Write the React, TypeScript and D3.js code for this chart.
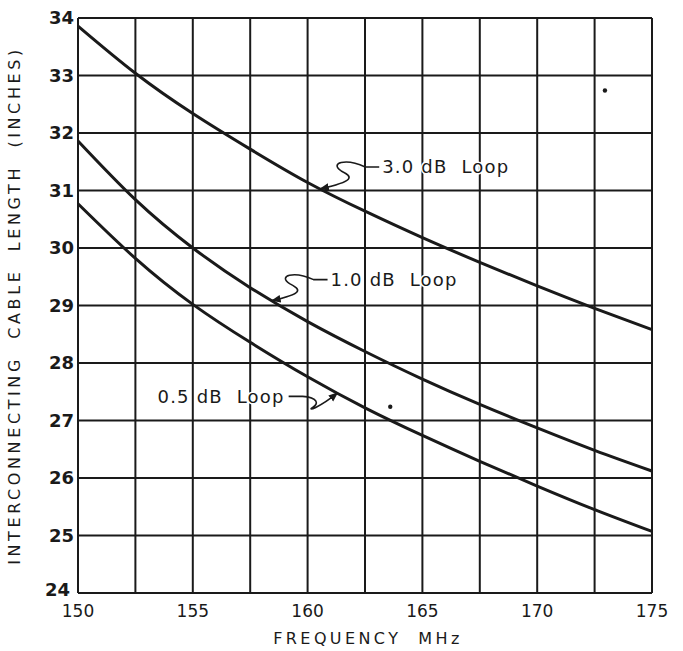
import * as d3 from "d3";

const WIDTH = 683;
const HEIGHT = 651;
const MARGIN = { top: 18, right: 31, bottom: 58, left: 78 };

// frequency samples (MHz), one per vertical grid line
const FREQS = [150, 152.5, 155, 157.5, 160, 162.5, 165, 167.5, 170, 172.5, 175];
// cable length (inches) read for each loop
const LOOP_30 = [33.86, 33.04, 32.34, 31.72, 31.14, 30.64, 30.18, 29.75, 29.34, 28.95, 28.58];
const LOOP_10 = [31.86, 30.84, 30.0, 29.31, 28.72, 28.2, 27.72, 27.28, 26.87, 26.48, 26.12];
const LOOP_05 = [30.77, 29.82, 29.02, 28.36, 27.76, 27.22, 26.74, 26.29, 25.86, 25.45, 25.07];

const X_TICKS = [150, 155, 160, 165, 170, 175];
const X_GRID = [150, 152.5, 155, 157.5, 160, 162.5, 165, 167.5, 170, 172.5, 175];
const Y_TICKS = [24, 25, 26, 27, 28, 29, 30, 31, 32, 33, 34];

// label text, where the text sits (data coords) and the frequency its arrow lands on
const LABELS = [
  { text: "3.0 dB  Loop", series: 0, tx: 163.25, ty: 31.41, ax: 160.55, side: "left" },
  { text: "1.0 dB  Loop", series: 1, tx: 161.0, ty: 29.45, ax: 158.45, side: "left" },
  { text: "0.5 dB  Loop", series: 2, tx: 159.0, ty: 27.42, ax: 161.3, side: "right" },
];

// two stray ink specks on the original sheet
const SPECKS = [
  { f: 172.95, v: 32.74 },
  { f: 163.6, v: 27.24 },
];

const FONT = "'DejaVu Sans', sans-serif";
const INK = "#1a1a1a";

export default function App() {
  const bw = WIDTH - MARGIN.left - MARGIN.right;
  const bh = HEIGHT - MARGIN.top - MARGIN.bottom;

  const x = d3.scaleLinear().domain([150, 175]).range([0, bw]);
  const y = d3.scaleLinear().domain([24, 34]).range([bh, 0]);

  const series = [LOOP_30, LOOP_10, LOOP_05];

  const line = d3
    .line<number>()
    .x((_, i) => x(FREQS[i]))
    .y((d) => y(d))
    .curve(d3.curveNatural);

  // value of a series at a given frequency (linear between readings)
  const valueAt = (s: number[], f: number) => {
    const i = Math.min(d3.bisectRight(FREQS, f), FREQS.length - 1);
    const t = (f - FREQS[i - 1]) / (FREQS[i] - FREQS[i - 1]);
    return s[i - 1] + t * (s[i] - s[i - 1]);
  };

  // squiggly leader from the text to the curve
  const leader = (l: (typeof LABELS)[number]) => {
    const ax = x(l.ax);
    const ay = y(valueAt(series[l.series], l.ax));
    if (l.side === "left") {
      const sx = x(l.tx) - 3;
      const sy = y(l.ty);
      return `M${sx},${sy} L${sx - 14},${sy} C${sx - 34},${sy - 9} ${sx - 50},${sy - 4} ${sx - 38},${sy + 4} C${sx - 26},${sy + 10} ${sx - 24},${sy + 14} ${ax},${ay}`;
    }
    const sx = x(l.tx) + 4;
    const sy = y(l.ty);
    return `M${sx},${sy} L${sx + 14},${sy} C${sx + 30},${sy + 1} ${sx + 30},${sy + 8} ${sx + 24},${sy + 11} C${sx + 18},${sy + 15} ${sx + 30},${sy + 12} ${ax},${ay}`;
  };

  return (
    <svg
      width={WIDTH}
      height={HEIGHT}
      style={{ position: "absolute", left: 0, top: 0, background: "#fff" }}
    >
      <defs>
        <marker
          id="arrow"
          viewBox="0 0 10 10"
          refX="9"
          refY="5"
          markerWidth="6"
          markerHeight="6"
          orient="auto"
        >
          <path d="M0,1 L10,5 L0,9 z" fill={INK} />
        </marker>
      </defs>
      <g transform={`translate(${MARGIN.left},${MARGIN.top})`}>
        {/* grid */}
        {X_GRID.map((v) => (
          <line key={"gx" + v} x1={x(v)} x2={x(v)} y1={0} y2={bh} stroke={INK} strokeWidth={2} />
        ))}
        {Y_TICKS.map((v) => (
          <line key={"gy" + v} x1={0} x2={bw} y1={y(v)} y2={y(v)} stroke={INK} strokeWidth={2} />
        ))}

        {/* curves */}
        {series.map((s, i) => (
          <path key={i} d={line(s) ?? ""} fill="none" stroke={INK} strokeWidth={3} />
        ))}

        {/* leaders and labels */}
        {LABELS.map((l) => (
          <g key={l.text}>
            <path d={leader(l)} fill="none" stroke={INK} strokeWidth={1.6} markerEnd="url(#arrow)" />
            <text
              x={x(l.tx)}
              y={y(l.ty)}
              dy="0.36em"
              textAnchor={l.side === "left" ? "start" : "end"}
              fontFamily={FONT}
              fontSize={18}
              fill={INK}
              letterSpacing={1.2}
              style={{ whiteSpace: "pre", paintOrder: "stroke" }}
              stroke="#fff"
              strokeWidth={3}
            >
              {l.text}
            </text>
          </g>
        ))}

        {SPECKS.map((s, i) => (
          <circle key={i} cx={x(s.f)} cy={y(s.v)} r={2.2} fill={INK} />
        ))}

        {/* y tick labels */}
        {Y_TICKS.map((v) => (
          <text
            key={"ty" + v}
            x={v === 24 ? -8 : -4}
            y={y(v)}
            dy={v === 24 ? "0.15em" : "0.36em"}
            textAnchor="end"
            fontFamily={FONT}
            fontSize={18}
            fontWeight="bold"
            fill={INK}
          >
            {v}
          </text>
        ))}

        {/* x tick labels */}
        {X_TICKS.map((v) => (
          <text
            key={"tx" + v}
            x={x(v)}
            y={bh + 24}
            textAnchor="middle"
            fontFamily={FONT}
            fontSize={17}
            fill={INK}
          >
            {v}
          </text>
        ))}

        <text
          x={bw / 2 + 3}
          y={bh + 51}
          textAnchor="middle"
          fontFamily={FONT}
          fontSize={16}
          letterSpacing={3.4}
          fill={INK}
          style={{ whiteSpace: "pre" }}
        >
          FREQUENCY  MHz
        </text>

        <text
          transform={`translate(${-58},${bh / 2}) rotate(-90)`}
          textAnchor="middle"
          fontFamily={FONT}
          fontSize={16}
          letterSpacing={3.6}
          fill={INK}
          style={{ whiteSpace: "pre" }}
        >
          INTERCONNECTING  CABLE  LENGTH  (INCHES)
        </text>
      </g>
    </svg>
  );
}
